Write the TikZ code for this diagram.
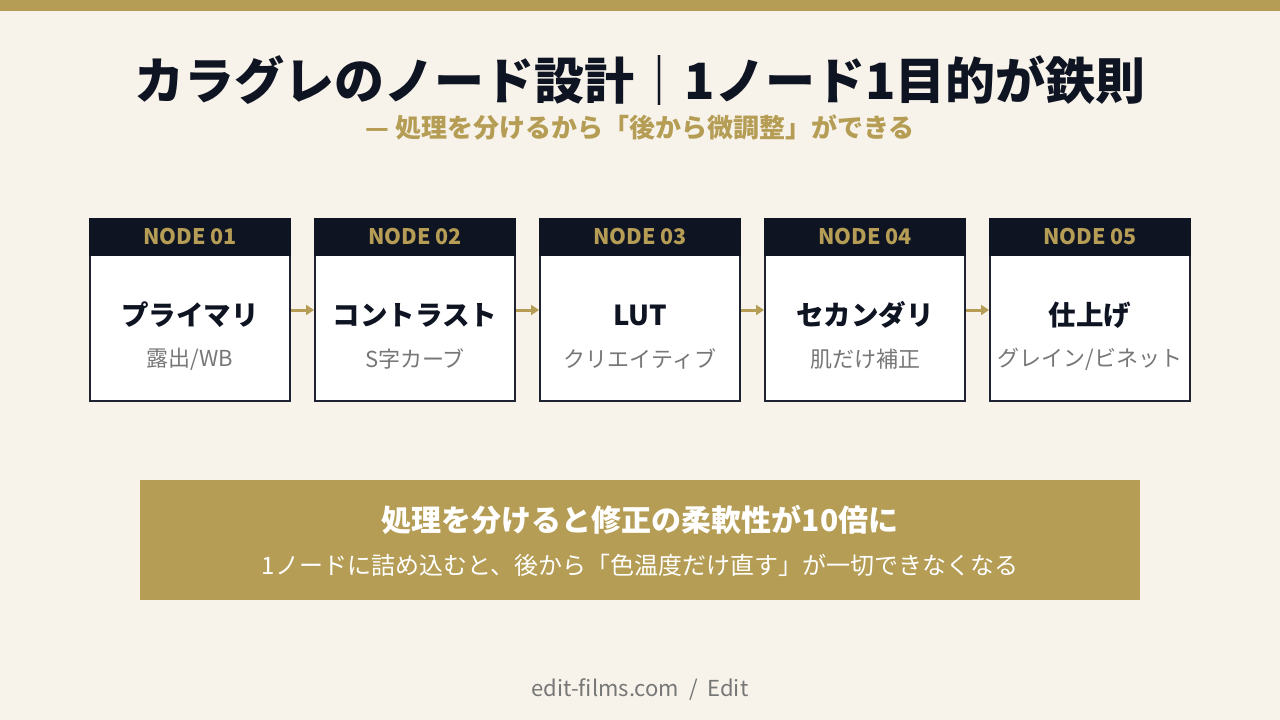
\documentclass[tikz,border=0pt]{standalone}
\usepackage{fontspec}
\setmainfont{Noto Sans CJK JP}
\usetikzlibrary{arrows.meta}
\usetikzlibrary{positioning}
\definecolor{gold}{HTML}{B59D55}
\definecolor{navy}{HTML}{0F1423}
\definecolor{paper}{HTML}{F7F3EA}
\definecolor{edge}{HTML}{1E2232}
\definecolor{softgray}{HTML}{777777}

\begin{document}
\begin{tikzpicture}[
    x=1pt, y=-1pt,
    every node/.style={inner sep=0},
    title/.style={text=navy, font=\fontsize{50}{60}\selectfont\bfseries},
    subtitle/.style={text=gold, font=\fontsize{26}{31}\selectfont\bfseries},
    nodebox/.style={rectangle, fill=white, draw=edge, line width=2, minimum width=200, minimum height=181},
    header/.style={rectangle, fill=navy, minimum width=202, minimum height=38, text=gold, font=\fontsize{21.5}{25}\selectfont\bfseries},
    mainlabel/.style={text=navy, font=\fontsize{27.5}{32}\selectfont\bfseries},
    sublabel/.style={text=softgray, font=\fontsize{22}{26}\selectfont},
    flow/.style={draw=gold, line width=3, -{Triangle[length=8, width=10]}},
    banner/.style={rectangle, fill=gold, minimum width=1000, minimum height=120},
    footer/.style={text=softgray, font=\fontsize{22}{26}\selectfont},
    ]

    \fill [paper] (0,0) rectangle (1280,720);
    \fill [gold] (0,0) rectangle (1280,11);

    \node (title) [title] at (640,80) {カラグレのノード設計｜1ノード1目的が鉄則};
    \node (subtitle) [subtitle] at (640,127) {— 処理を分けるから「後から微調整」ができる};

    \foreach \i/\name/\desc [evaluate=\i as \x using 190+225*(\i-1)] in {
        1/プライマリ/{露出/WB},
        2/コントラスト/S字カーブ,
        3/LUT/クリエイティブ,
        4/セカンダリ/肌だけ補正,
        5/仕上げ/{グレイン/ビネット}} {
        \node (box\i) [nodebox] at (\x,310) {};
        \node (head\i) [header, anchor=north] at ([yshift=1]box\i.north) {\raisebox{-1.5pt}{NODE 0\i}};
        \node (name\i) [mainlabel] at (\x,315) {\name};
        \node (desc\i) [sublabel] at (\x,359) {\desc};
    }

    \foreach \i [count=\j from 2] in {1,...,4} {
        \draw [flow] (box\i.east) -- (box\j.west);
    }

    \node (banner) [banner] at (640,540) {};
    \node (point) [text=white, font=\fontsize{30}{35}\selectfont\bfseries] at (640,520) {処理を分けると修正の柔軟性が10倍に};
    \node (reason) [text=white, font=\fontsize{24}{28}\selectfont] at (640,565) {1ノードに詰め込むと、後から「色温度だけ直す」が一切できなくなる};

    \node (site) [footer] at (640,690) {edit-films.com \ / \ Edit};
\end{tikzpicture}
\end{document}
